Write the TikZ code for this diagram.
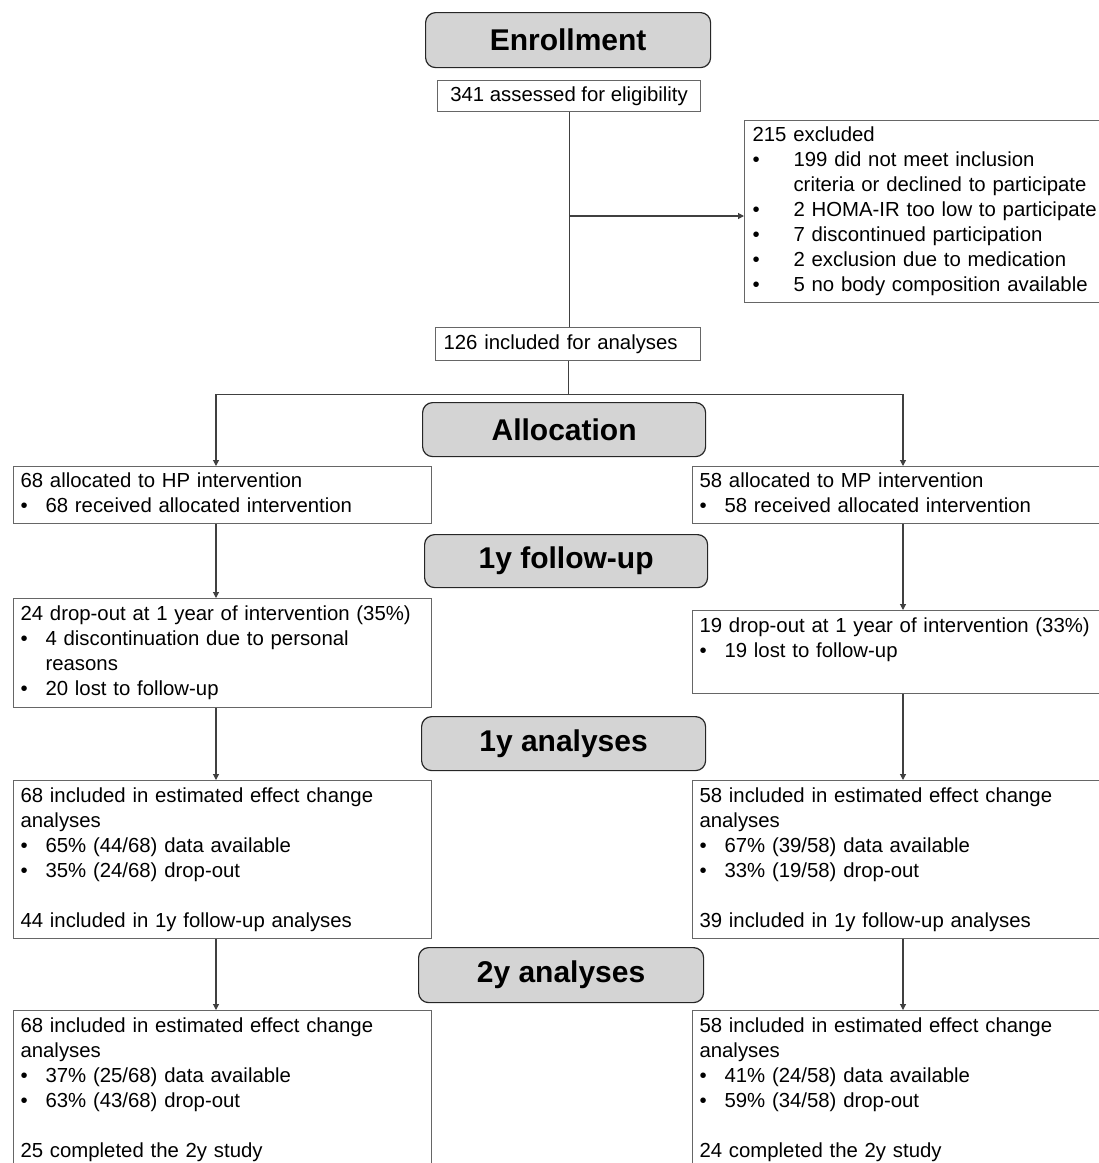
\documentclass[tikz,border=0pt]{standalone}
\usepackage{fontspec}
\setmainfont{Liberation Sans}
\usetikzlibrary{arrows.meta,positioning}

\tikzset{
  stage/.style={draw=black!85, fill=black!17, rounded corners=10pt, line width=1.2pt,
    anchor=north west, inner sep=0pt, font=\fontsize{30}{36}\selectfont\bfseries},
  flowbox/.style={draw=black!60, line width=1.1pt, anchor=north west, align=left,
    inner xsep=7pt, inner ysep=0pt, font=\fontsize{20.35}{25}\selectfont},
  link/.style={draw=black!75, line width=1.1pt},
  arr/.style={link, -{Triangle[length=6pt,width=6pt]}},
}
\newcommand{\itm}[1]{\makebox[25pt][l]{\textbullet}#1}
\newcommand{\itmw}[1]{\makebox[41pt][l]{\textbullet}#1}

\begin{document}
\begin{tikzpicture}[x=1pt, y=-1pt]
  \useasboundingbox (0,0) rectangle (1099,1163);
  \clip (0,0) rectangle (1099,1163);
  % columns
  \coordinate (colL) at (216,0);
  \coordinate (colR) at (903,0);
  % enrollment
  \node[stage, minimum width=285pt, minimum height=55pt] (enrol) at (425,12) {Enrollment};
  \node[flowbox, align=center, minimum width=263pt, minimum height=31pt] (assess) at (437,80)
    {\strut 341 assessed for eligibility};
  \node[flowbox, inner xsep=8pt, text width=354pt, minimum height=182pt] (excl) at (744,120)
    {\strut 215 excluded\\
     \itmw{199 did not meet inclusion}\\
     \hspace*{41pt}criteria or declined to participate\\
     \itmw{2 HOMA-IR too low to participate}\\
     \itmw{7 discontinued participation}\\
     \itmw{2 exclusion due to medication}\\
     \itmw{5 no body composition available}\strut};
  \node[flowbox, inner xsep=8pt, text width=249pt, minimum height=33pt] (incl) at (435,327)
    {\strut 126 included for analyses};
  \coordinate (split) at (569,216);
  \draw[link] (assess.south) -- (assess.south |- incl.north);
  \draw[arr] (split) -- (split -| excl.west);
  % allocation
  \node[stage, minimum width=283pt, minimum height=54pt] (alloc) at (422,402) {Allocation};
  \node[flowbox, text width=404pt, minimum height=57pt] (hp) at (13,466)
    {\strut 68 allocated to HP intervention\\
     \itm{68 received allocated intervention}\strut};
  \node[flowbox, text width=406pt, minimum height=57pt] (mp) at (692,466)
    {\strut 58 allocated to MP intervention\\
     \itm{58 received allocated intervention}\strut};
  \draw[link] (incl.south) -- ++(0,33) coordinate (fork);
  \draw[arr] (fork) -| (hp.north -| colL);
  \draw[arr] (fork) -| (mp.north -| colR);
  % 1y follow-up
  \node[stage, minimum width=283pt, minimum height=53pt] (fu) at (424,534) {1y follow-up};
  \node[flowbox, text width=404pt, minimum height=109pt] (lfu) at (13,598)
    {\strut 24 drop-out at 1 year of intervention (35\%)\\
     \itm{4 discontinuation due to personal}\\
     \hspace*{25pt}reasons\\
     \itm{20 lost to follow-up}\strut};
  \node[flowbox, text width=406pt, minimum height=83pt] (rfu) at (692,610)
    {\strut 19 drop-out at 1 year of intervention (33\%)\\
     \itm{19 lost to follow-up}\\
     \strut};
  \draw[arr] (hp.south -| colL) -- (lfu.north -| colL);
  \draw[arr] (mp.south -| colR) -- (rfu.north -| colR);
  % 1y analyses
  \node[stage, minimum width=284pt, minimum height=54pt] (ana1) at (421,716) {1y analyses};
  \node[flowbox, text width=404pt, minimum height=158pt] (l1y) at (13,780)
    {\strut 68 included in estimated effect change\\
     analyses\\
     \itm{65\% (44/68) data available}\\
     \itm{35\% (24/68) drop-out}\\[25pt]
     44 included in 1y follow-up analyses\strut};
  \node[flowbox, text width=406pt, minimum height=158pt] (r1y) at (692,780)
    {\strut 58 included in estimated effect change\\
     analyses\\
     \itm{67\% (39/58) data available}\\
     \itm{33\% (19/58) drop-out}\\[25pt]
     39 included in 1y follow-up analyses\strut};
  \draw[arr] (lfu.south -| colL) -- (l1y.north -| colL);
  \draw[arr] (rfu.south -| colR) -- (r1y.north -| colR);
  % 2y analyses
  \node[stage, minimum width=285pt, minimum height=55pt] (ana2) at (418,947) {2y analyses};
  \node[flowbox, text width=404pt, minimum height=158pt] (l2y) at (13,1010)
    {\strut 68 included in estimated effect change\\
     analyses\\
     \itm{37\% (25/68) data available}\\
     \itm{63\% (43/68) drop-out}\\[25pt]
     25 completed the 2y study\strut};
  \node[flowbox, text width=406pt, minimum height=158pt] (r2y) at (692,1010)
    {\strut 58 included in estimated effect change\\
     analyses\\
     \itm{41\% (24/58) data available}\\
     \itm{59\% (34/58) drop-out}\\[25pt]
     24 completed the 2y study\strut};
  \draw[arr] (l1y.south -| colL) -- (l2y.north -| colL);
  \draw[arr] (r1y.south -| colR) -- (r2y.north -| colR);
\end{tikzpicture}
\end{document}
